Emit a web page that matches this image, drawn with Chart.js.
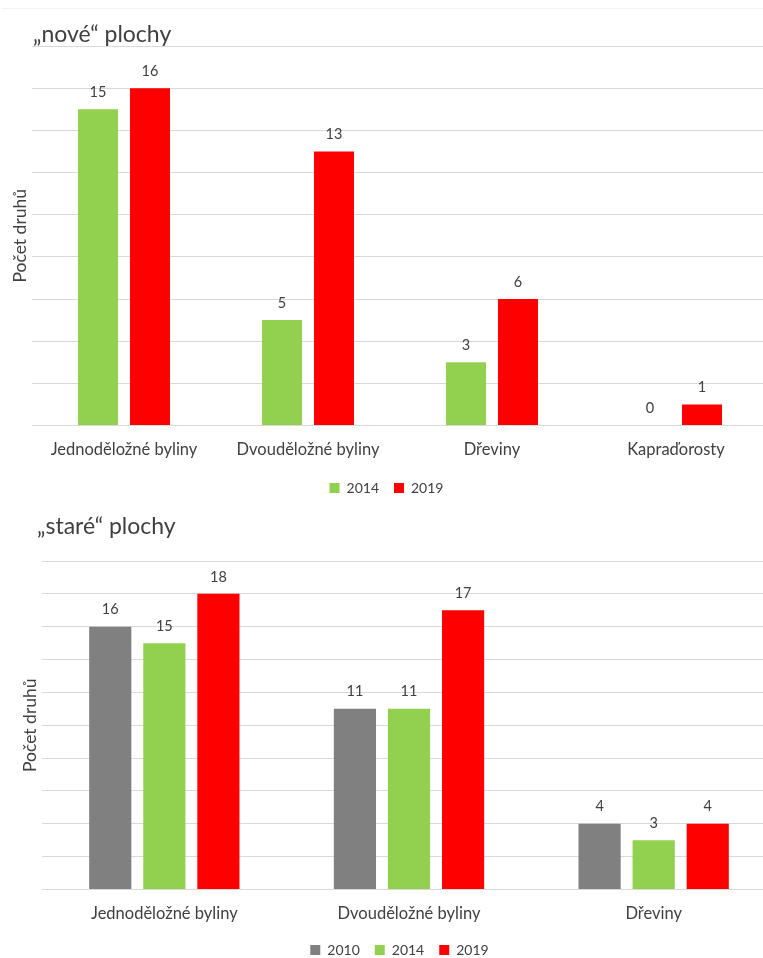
<!DOCTYPE html>
<html>
<head>
<meta charset="utf-8">
<script src="https://cdn.jsdelivr.net/npm/chart.js@4.4.1/dist/chart.umd.min.js"></script>
<style>
  html, body { margin: 0; padding: 0; background: #fff; }
  body { width: 763px; height: 958px; overflow: hidden; position: relative; }
  #frame { position: absolute; left: 2px; top: 8px; width: 800px; height: 0; border-top: 1px solid #f2f2f2; }
  #c1 { position: absolute; left: 0; top: 0; }
  #c2 { position: absolute; left: 0; top: 505px; }
</style>
</head>
<body>
<div id="frame"></div>
<canvas id="c1" width="773" height="505"></canvas>
<canvas id="c2" width="799" height="462"></canvas>
<script>
// Species counts per plant group
const newCategories = ['Jednoděložné byliny', 'Dvouděložné byliny', 'Dřeviny', 'Kapraďorosty'];
const new2014 = [15, 5, 3, 0];
const new2019 = [16, 13, 6, 1];

const oldCategories = ['Jednoděložné byliny', 'Dvouděložné byliny', 'Dřeviny'];
const old2010 = [16, 11, 4];
const old2014 = [15, 11, 3];
const old2019 = [18, 17, 4];

const newTitle = '„nové“ plochy';
const oldTitle = '„staré“ plochy';
const yAxisTitle = 'Počet druhů';

const GREEN = '#92D050';
const RED = '#FF0000';
const GRAY = '#808080';
const TEXT = '#404040';
const FONT = 'Lato';

// Value above every bar
const valueLabels = {
  id: 'valueLabels',
  afterDatasetsDraw(chart) {
    const ctx = chart.ctx;
    ctx.save();
    ctx.font = '14.5px ' + FONT;
    ctx.fillStyle = TEXT;
    ctx.textAlign = 'center';
    ctx.textBaseline = 'middle';
    chart.data.datasets.forEach((ds, i) => {
      chart.getDatasetMeta(i).data.forEach((bar, j) => {
        ctx.fillText(String(ds.data[j]), bar.x, bar.y - 17);
      });
    });
    ctx.restore();
  }
};

// Chart heading in the top-left corner
const heading = {
  id: 'heading',
  afterDraw(chart, args, opts) {
    const ctx = chart.ctx;
    ctx.save();
    ctx.font = opts.size + 'px ' + FONT;
    ctx.fillStyle = TEXT;
    ctx.textAlign = 'left';
    ctx.textBaseline = 'middle';
    ctx.fillText(opts.text, opts.x, opts.y);
    ctx.restore();
  }
};

function makeChart(canvas, labels, datasets, o) {
  return new Chart(canvas, {
    type: 'bar',
    data: { labels, datasets },
    options: {
      responsive: false,
      animation: false,
      layout: { padding: { left: o.padLeft, top: o.padTop, right: o.padRight, bottom: 0 } },
      datasets: { bar: { categoryPercentage: o.cat, barPercentage: o.bar } },
      plugins: {
        legend: {
          position: 'bottom',
          labels: { boxWidth: 10, boxHeight: 10, padding: 15, color: TEXT, font: { family: FONT, size: 14 } }
        },
        tooltip: { enabled: false },
        heading: { text: o.title, x: o.titleX, y: o.titleY, size: 23 }
      },
      scales: {
        x: {
          grid: { display: false, drawTicks: false },
          border: { display: false },
          ticks: { color: TEXT, font: { family: FONT, size: 16.5 }, padding: 14, maxRotation: 0, autoSkip: false },
          afterFit(s) { s.height = o.xHeight; }
        },
        y: {
          min: 0,
          max: o.max,
          ticks: { display: false, stepSize: 2 },
          grid: { color: '#d9d9d9', drawTicks: false, lineWidth: 1 },
          border: { display: false },
          title: { display: true, text: yAxisTitle, color: TEXT, font: { family: FONT, size: 17.5 }, padding: { top: o.yTitlePad, bottom: 0 } },
          afterFit(s) { s.width = o.yWidth; }
        }
      }
    },
    plugins: [valueLabels, heading]
  });
}

makeChart(document.getElementById('c1'), newCategories, [
  { label: '2014', data: new2014, backgroundColor: GREEN },
  { label: '2019', data: new2019, backgroundColor: RED }
], {
  padLeft: 5, padTop: 46, padRight: 5, yWidth: 27, yTitlePad: 4.5,
  xHeight: 40.5, max: 18, cat: 0.565, bar: 0.77,
  title: newTitle, titleX: 33, titleY: 35
});

makeChart(document.getElementById('c2'), oldCategories, [
  { label: '2010', data: old2010, backgroundColor: GRAY },
  { label: '2014', data: old2014, backgroundColor: GREEN },
  { label: '2019', data: old2019, backgroundColor: RED }
], {
  padLeft: 23, padTop: 56, padRight: 23, yWidth: 19, yTitlePad: -3.5,
  xHeight: 38.5, max: 20, cat: 0.663, bar: 0.78,
  title: oldTitle, titleX: 37, titleY: 22
});
</script>
</body>
</html>
